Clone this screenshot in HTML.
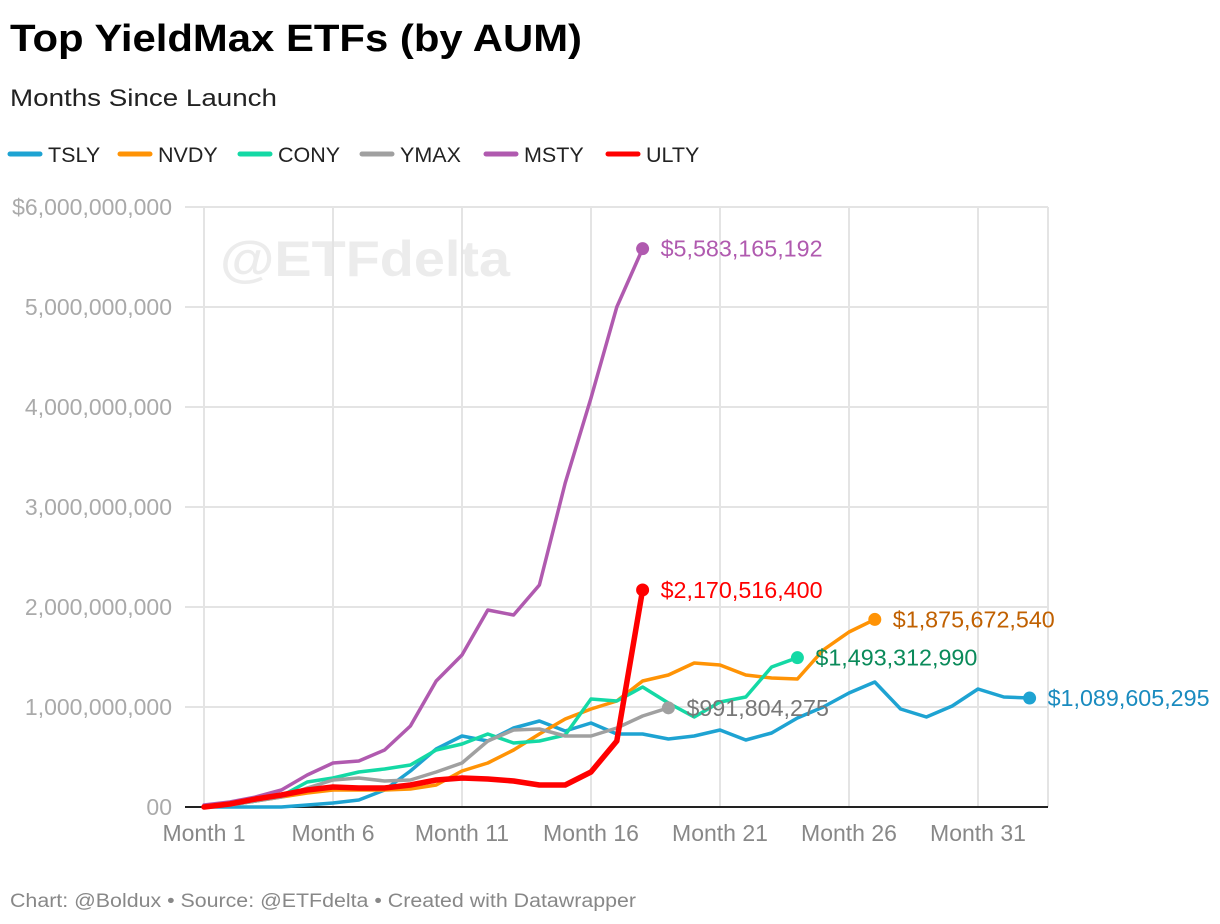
<!DOCTYPE html>
<html><head><meta charset="utf-8"><style>
body{margin:0;background:#fff;}
svg{display:block;font-family:"Liberation Sans",sans-serif;}
</style></head><body>
<svg id="chart" width="1220" height="924" viewBox="0 0 1220 924" xmlns="http://www.w3.org/2000/svg">
<text x="10" y="51" font-size="38" font-weight="bold" fill="#000" textLength="572" lengthAdjust="spacingAndGlyphs">Top YieldMax ETFs (by AUM)</text>
<text x="10" y="106" font-size="24" fill="#222" textLength="267" lengthAdjust="spacingAndGlyphs">Months Since Launch</text>
<g id="legend"></g>
<text x="220" y="276" font-size="50" font-weight="bold" fill="#ececec" textLength="290" lengthAdjust="spacingAndGlyphs">@ETFdelta</text>
<g id="grid"></g>
<g id="series"></g>
<text x="10" y="907" font-size="19" fill="#888" textLength="626" lengthAdjust="spacingAndGlyphs">Chart: @Boldux • Source: @ETFdelta • Created with Datawrapper</text>
</svg>
<script>
const names = ["TSLY","NVDY","CONY","YMAX","MSTY","ULTY"];
const tsly = [0,0,0,0,0.02,0.04,0.07,0.17,0.36,0.58,0.71,0.66,0.79,0.86,0.76,0.84,0.73,0.73,0.68,0.71,0.77,0.67,0.74,0.89,1.0,1.14,1.25,0.98,0.90,1.01,1.18,1.10,1.089605295];
const nvdy = [0,0.02,0.06,0.10,0.14,0.17,0.17,0.17,0.18,0.22,0.36,0.44,0.57,0.73,0.88,0.98,1.06,1.26,1.32,1.44,1.42,1.32,1.29,1.28,1.57,1.75,1.87567254];
const cony = [0,0.02,0.06,0.11,0.25,0.29,0.35,0.38,0.42,0.57,0.63,0.73,0.64,0.66,0.72,1.08,1.06,1.20,1.04,0.90,1.05,1.10,1.40,1.49331299];
const ymax = [0,0.02,0.06,0.10,0.19,0.27,0.29,0.26,0.27,0.35,0.44,0.66,0.77,0.78,0.71,0.71,0.79,0.91,0.991804275];
const msty = [0.02,0.05,0.10,0.17,0.32,0.44,0.46,0.57,0.81,1.26,1.52,1.97,1.92,2.22,3.24,4.09,5.0,5.583165192];
const ulty = [0,0.03,0.08,0.12,0.17,0.20,0.19,0.19,0.22,0.27,0.29,0.28,0.26,0.22,0.22,0.35,0.66,2.1705164];
const endLabels = ["$1,089,605,295","$1,875,672,540","$1,493,312,990","$991,804,275","$5,583,165,192","$2,170,516,400"];
const yTicks = [0,1,2,3,4,5,6];
const yTickLabels = ["00","1,000,000,000","2,000,000,000","3,000,000,000","4,000,000,000","5,000,000,000","$6,000,000,000"];
const xTicks = [1,6,11,16,21,26,31];

const NS="http://www.w3.org/2000/svg";
const X0=204, DX=25.8, Y0=807, DY=100, XR=1048;
const xs = m => X0 + (m-1)*DX;
const ys = v => Y0 - v*DY;
function mk(tag, attrs, parent){const e=document.createElementNS(NS,tag);for(const k in attrs)e.setAttribute(k,attrs[k]);parent.appendChild(e);return e;}
const grid=document.getElementById('grid'), ser=document.getElementById('series'), leg=document.getElementById('legend');

yTicks.forEach((t,i)=>{
  const l=mk('line',{x1:185,x2:XR,y1:ys(t),y2:ys(t),stroke:'#e4e4e4','stroke-width':2},grid);
  
  
  const tx=mk('text',{x:172,y:ys(t)+8,'text-anchor':'end','font-size':23,fill:'#aaa'},grid);
  tx.textContent=yTickLabels[i];
  
  
});
xTicks.forEach(m=>{
  const l=mk('line',{x1:xs(m),x2:xs(m),y1:207,y2:807,stroke:'#e4e4e4','stroke-width':2},grid);
  
  
  const tx=mk('text',{x:xs(m),y:841,'text-anchor':'middle','font-size':23,fill:'#888'},grid);
  tx.textContent='Month '+m;
  
  
});
const rl=mk('line',{x1:XR,x2:XR,y1:207,y2:807,stroke:'#e4e4e4','stroke-width':2},grid);


const ax=mk('line',{x1:185,x2:XR,y1:807,y2:807,stroke:'#222','stroke-width':2},grid);



const colors=["#1ea3d2","#ff9305","#14d9a5","#a0a0a0","#b05aaf","#ff0000"];
const labelColors=["#1a8bbf","#c06000","#0a8a5a","#777777","#b05aaf","#ff0000"];
const widths=[3.5,3.5,3.5,3.5,3.5,5.5];
const data=[tsly,nvdy,cony,ymax,msty,ulty];
const order=[0,1,2,3,4,5];
order.forEach(i=>{
  const d=data[i];
  const pts=d.map((v,j)=>xs(j+1).toFixed(1)+','+ys(v).toFixed(1)).join(' ');
  const p=mk('polyline',{points:pts,fill:'none',stroke:colors[i],'stroke-width':widths[i],'stroke-linejoin':'round','stroke-linecap':'round'},ser);
  
  
  const lx=xs(d.length), ly=ys(d[d.length-1]);
  const c=mk('circle',{cx:lx,cy:ly,r:6.5,fill:colors[i]},ser);
  
  
  const t=mk('text',{x:lx+18,y:ly+8,'font-size':23.3,fill:labelColors[i]},ser);
  t.textContent=endLabels[i];
  
  
});

const legX=[10,120,240,362,486,608];
names.forEach((n,i)=>{
  const s=mk('line',{x1:legX[i],x2:legX[i]+30,y1:154,y2:154,stroke:colors[i],'stroke-width':5,'stroke-linecap':'round'},leg);
  
  
  const t=mk('text',{x:legX[i]+38,y:162,'font-size':21.5,fill:'#222'},leg);
  t.textContent=n;
  
  
});
</script>
</body></html>
